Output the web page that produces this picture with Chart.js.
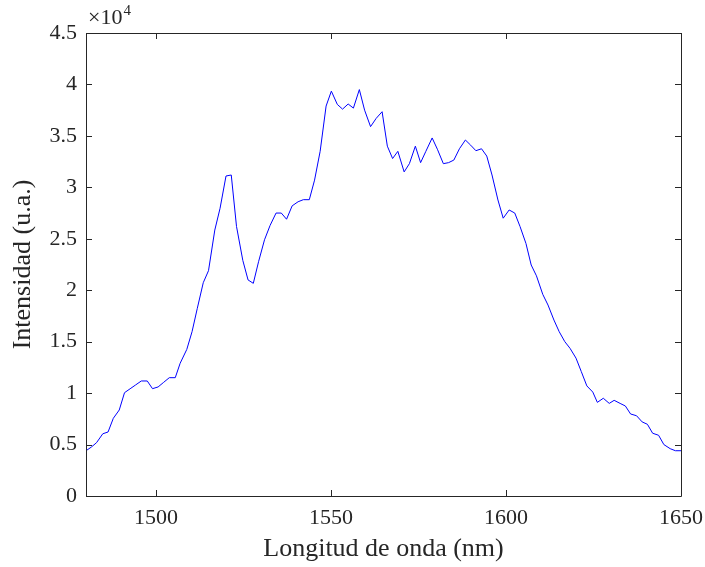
<!DOCTYPE html>
<html>
<head>
<meta charset="utf-8">
<script src="https://cdn.jsdelivr.net/npm/chart.js@4"></script>
<style>
  html, body { margin: 0; padding: 0; background: #fff; }
  #wrap { width: 705px; height: 567px; }
</style>
</head>
<body>
<div id="wrap"><canvas id="myChart" width="705" height="567"></canvas></div>
<script>
/* globals Chart:false */

// Espectro medido: longitud de onda (nm) e intensidad (cuentas)
const wavelengths = [
  1480, 1481.5, 1483, 1484.8, 1486.3, 1487.8, 1489.5, 1491, 1492.6, 1494.2,
  1495.8, 1497.5, 1499, 1500.6, 1502.2, 1503.8, 1505.5, 1506.9, 1508.8, 1510.3,
  1511.8, 1513.5, 1515, 1516.8, 1518.3, 1520, 1521.5, 1523, 1524.8, 1526.3,
  1527.8, 1529.3, 1531, 1532.6, 1534.3, 1535.8, 1537.3, 1538.9, 1540.6, 1542.1,
  1543.8, 1545.3, 1546.9, 1548.6, 1550.1, 1551.8, 1553.3, 1554.9, 1556.4, 1558.1,
  1559.6, 1561.3, 1562.9, 1564.6, 1566.1, 1567.6, 1569.1, 1570.9, 1572.4, 1574.1,
  1575.6, 1577.1, 1578.9, 1580.4, 1582.1, 1583.6, 1585.1, 1586.7, 1588.4, 1589.9,
  1591.4, 1593, 1594.5, 1596, 1597.7, 1599.2, 1600.9, 1602.5, 1604, 1605.7,
  1607.2, 1608.7, 1610.5, 1612, 1613.7, 1615.2, 1616.8, 1618.3, 1620, 1621.5,
  1623.1, 1624.8, 1626.1, 1627.8, 1629.5, 1630.9, 1632.6, 1634.1, 1635.6, 1637.3,
  1638.9, 1640.4, 1641.9, 1643.6, 1645.1, 1646.9, 1648.4, 1650
]

const intensity = [
  4400, 4750, 5180, 6050, 6220, 7550, 8360, 10040, 10420, 10800,
  11180, 11180, 10430, 10600, 11050, 11500, 11500, 12900, 14250, 15970,
  18240, 20730, 21900, 25850, 27960, 31100, 31200, 26200, 22900, 21000,
  20670, 22770, 24900, 26300, 27500, 27500, 26900, 28200, 28600, 28800,
  28800, 30700, 33500, 37900, 39350, 38060, 37600, 38100, 37700, 39500,
  37500, 35900, 36700, 37350, 34000, 32800, 33500, 31500, 32300, 34000,
  32400, 33500, 34800, 33700, 32300, 32400, 32650, 33750, 34600, 34100,
  33560, 33750, 33040, 31200, 28770, 27000, 27800, 27500, 26200, 24550,
  22450, 21400, 19600, 18560, 17100, 15970, 15000, 14350, 13400, 12100,
  10700, 10100, 9100, 9500, 9000, 9300, 9000, 8750, 7970, 7800,
  7200, 6970, 6100, 5900, 5000, 4600, 4400, 4400
]

const xTicks = [1500, 1550, 1600, 1650]
const yTicks = [0, 5000, 10000, 15000, 20000, 25000, 30000, 35000, 40000, 45000]

const axisColor = '#262626'
const serif = '"Liberation Serif", "DejaVu Serif", serif'

// Caja alrededor del área de trazado con marcas hacia dentro en los cuatro lados
const boxAxes = {
  id: 'boxAxes',
  afterDraw(chart) {
    const { ctx, chartArea: a, scales } = chart
    const len = 6
    ctx.save()
    ctx.strokeStyle = axisColor
    ctx.lineWidth = 1
    ctx.beginPath()
    ctx.rect(Math.round(a.left) + 0.5, Math.round(a.top) + 0.5,
      Math.round(a.right - a.left), Math.round(a.bottom - a.top))
    ctx.stroke()
    ctx.beginPath()
    xTicks.forEach(v => {
      const px = Math.round(scales.x.getPixelForValue(v)) + 0.5
      ctx.moveTo(px, a.bottom); ctx.lineTo(px, a.bottom - len)
      ctx.moveTo(px, a.top); ctx.lineTo(px, a.top + len)
    })
    yTicks.forEach(v => {
      const py = Math.round(scales.y.getPixelForValue(v)) + 0.5
      ctx.moveTo(a.left, py); ctx.lineTo(a.left + len, py)
      ctx.moveTo(a.right, py); ctx.lineTo(a.right - len, py)
    })
    ctx.stroke()

    // factor de escala del eje y
    ctx.fillStyle = axisColor
    ctx.textBaseline = 'alphabetic'
    ctx.font = '22px ' + serif
    ctx.fillText('×10', a.left + 2, a.top - 9)
    const w = ctx.measureText('×10').width
    ctx.font = '15px ' + serif
    ctx.fillText('4', a.left + 3 + w, a.top - 18)
    ctx.restore()
  }
}

const ctx = document.getElementById('myChart')

// eslint-disable-next-line no-unused-vars
const myChart = new Chart(ctx, {
  type: 'line',
  data: {
    datasets: [{
      data: wavelengths.map((x, i) => ({ x, y: intensity[i] })),
      borderColor: '#0000ff',
      borderWidth: 1,
      pointRadius: 0,
      tension: 0,
      fill: false
    }]
  },
  options: {
    responsive: false,
    animation: false,
    layout: { padding: { top: 33, right: 24, left: 0, bottom: 0 } },
    plugins: {
      legend: { display: false },
      tooltip: { enabled: false }
    },
    scales: {
      x: {
        type: 'linear',
        min: 1480,
        max: 1650,
        afterFit(scale) {
          scale.height = 71
          scale.paddingLeft = 0
          scale.paddingRight = 0
        },
        afterBuildTicks(scale) { scale.ticks = xTicks.map(v => ({ value: v })) },
        grid: { display: false, drawTicks: false },
        border: { display: false },
        ticks: {
          color: axisColor,
          padding: 9,
          maxRotation: 0,
          autoSkip: false,
          font: { family: serif, size: 22 },
          callback: v => String(v)
        },
        title: {
          display: true,
          text: 'Longitud de onda (nm)',
          color: axisColor,
          padding: { top: 0, bottom: 2 },
          font: { family: serif, size: 26 }
        }
      },
      y: {
        type: 'linear',
        min: 0,
        max: 45000,
        afterFit(scale) {
          scale.width = 86
          scale.paddingTop = 0
          scale.paddingBottom = 0
        },
        afterBuildTicks(scale) { scale.ticks = yTicks.map(v => ({ value: v })) },
        grid: { display: false, drawTicks: false },
        border: { display: false },
        ticks: {
          color: axisColor,
          padding: 9,
          autoSkip: false,
          font: { family: serif, size: 22 },
          callback: v => String(v / 10000)
        },
        title: {
          display: true,
          text: 'Intensidad (u.a.)',
          color: axisColor,
          padding: { top: 8, bottom: 0 },
          font: { family: serif, size: 26 }
        }
      }
    }
  },
  plugins: [boxAxes]
})
</script>
</body>
</html>
